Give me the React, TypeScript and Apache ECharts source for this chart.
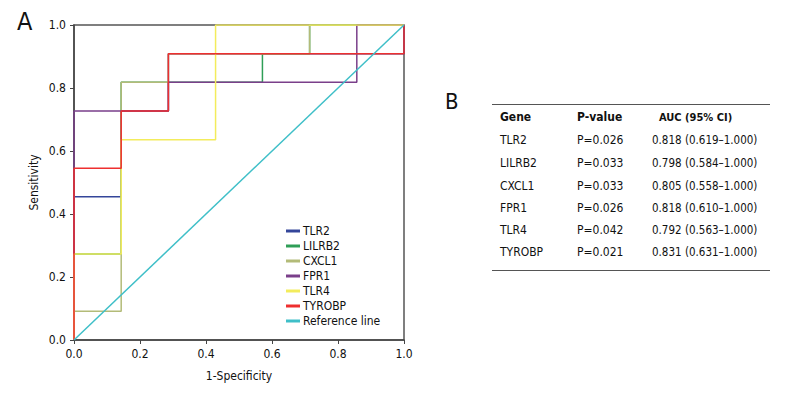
import React, { useEffect, useRef } from "react";
import * as echarts from "echarts";

const FONT = "'Liberation Sans Narrow', 'DejaVu Sans Condensed', 'Roboto Condensed', sans-serif";

const seriesNames = ["TLR2", "LILRB2", "CXCL1", "FPR1", "TLR4", "TYROBP", "Reference line"];
const seriesColors = ["#34469a", "#2f9e57", "#b3bb78", "#7a3f8a", "#f3ec5c", "#ee2f2f", "#3fbfc8"];

// ROC corner points [1-specificity, sensitivity]
const tlr2: number[][] = [[0, 0], [0, 0.455], [0.143, 0.455], [0.143, 0.727], [0.286, 0.727], [0.286, 0.909], [1, 0.909], [1, 1]];
const lilrb2: number[][] = [[0, 0], [0, 0.273], [0.143, 0.273], [0.143, 0.818], [0.571, 0.818], [0.571, 0.909], [0.714, 0.909], [0.714, 1], [1, 1]];
const cxcl1: number[][] = [[0, 0], [0, 0.091], [0.143, 0.091], [0.143, 0.818], [0.286, 0.818], [0.286, 0.909], [0.714, 0.909], [0.714, 1], [1, 1]];
const fpr1: number[][] = [[0, 0], [0, 0.727], [0.286, 0.727], [0.286, 0.818], [0.857, 0.818], [0.857, 1], [1, 1]];
const tlr4: number[][] = [[0, 0], [0, 0.273], [0.143, 0.273], [0.143, 0.636], [0.429, 0.636], [0.429, 1], [1, 1]];
const tyrobp: number[][] = [[0, 0], [0, 0.545], [0.143, 0.545], [0.143, 0.727], [0.286, 0.727], [0.286, 0.909], [1, 0.909], [1, 1]];
const refLine: number[][] = [[0, 0], [1, 1]];
const seriesData = [tlr2, lilrb2, cxcl1, fpr1, tlr4, tyrobp, refLine];

const tableHeader = ["Gene", "P-value", "AUC (95% CI)"];
const tableGenes = ["TLR2", "LILRB2", "CXCL1", "FPR1", "TLR4", "TYROBP"];
const tablePValues = ["P=0.026", "P=0.033", "P=0.033", "P=0.026", "P=0.042", "P=0.021"];
const tableAUC = [
  "0.818 (0.619\u20131.000)",
  "0.798 (0.584\u20131.000)",
  "0.805 (0.558\u20131.000)",
  "0.818 (0.610\u20131.000)",
  "0.792 (0.563\u20131.000)",
  "0.831 (0.631\u20131.000)",
];

export default function App() {
  const ref = useRef<HTMLDivElement>(null);
  useEffect(() => {
    document.body.style.margin = "0";
    if (!ref.current) return;
    const chart = echarts.init(ref.current, null, { renderer: "svg" });

    const rowY = [140, 163, 186, 208, 230, 252];
    const colX = [500, 577, 652];
    const graphics: any[] = [
      { type: "text", left: 17, top: 9, style: { text: "A", fontSize: 25, fontFamily: FONT, fill: "#111" } },
      { type: "text", left: 445, top: 90, style: { text: "B", fontSize: 22, fontFamily: FONT, fill: "#111" } },
      { type: "line", shape: { x1: 492, y1: 104.5, x2: 770, y2: 104.5 }, style: { stroke: "#555", lineWidth: 1.2 } },
      { type: "line", shape: { x1: 492, y1: 270.5, x2: 770, y2: 270.5 }, style: { stroke: "#555", lineWidth: 1.2 } },
      { type: "text", x: colX[0], y: 117, style: { text: tableHeader[0], fontSize: 12, fontWeight: "bold", fontFamily: FONT, fill: "#111", verticalAlign: "middle" } },
      { type: "text", x: colX[1], y: 117, style: { text: tableHeader[1], fontSize: 12, fontWeight: "bold", fontFamily: FONT, fill: "#111", verticalAlign: "middle" } },
      { type: "text", x: 659, y: 117, style: { text: tableHeader[2], fontSize: 11, fontWeight: "bold", fontFamily: FONT, fill: "#111", verticalAlign: "middle" } },
    ];
    tableGenes.forEach((g, i) => {
      graphics.push({ type: "text", x: colX[0], y: rowY[i], style: { text: g, fontSize: 12, fontFamily: FONT, fill: "#111", verticalAlign: "middle" } });
      graphics.push({ type: "text", x: colX[1], y: rowY[i], style: { text: tablePValues[i], fontSize: 12, fontFamily: FONT, fill: "#111", verticalAlign: "middle" } });
      graphics.push({ type: "text", x: colX[2], y: rowY[i], style: { text: tableAUC[i], fontSize: 11.5, fontFamily: FONT, fill: "#111", verticalAlign: "middle" } });
    });

    const axisCommon = {
      type: "value" as const,
      min: 0,
      max: 1,
      interval: 0.2,
      splitLine: { show: false },
      axisLine: { show: true, lineStyle: { color: "#444", width: 1.5 } },
      axisTick: { show: true, length: 4, lineStyle: { color: "#444" } },
      axisLabel: { fontSize: 12, fontFamily: FONT, color: "#111", formatter: (v: number) => v.toFixed(1) },
      nameTextStyle: { fontSize: 12, fontFamily: FONT, color: "#111" },
      nameLocation: "middle" as const,
    };

    chart.setOption({
      animation: false,
      backgroundColor: "#fff",
      grid: { left: 74, top: 25, width: 330, height: 315, show: true, borderColor: "#555", borderWidth: 1.5 },
      xAxis: { ...axisCommon, name: "1-Specificity", nameGap: 30 },
      yAxis: { ...axisCommon, name: "Sensitivity", nameGap: 34 },
      legend: {
        orient: "vertical",
        left: 281,
        top: 219,
        itemWidth: 14,
        itemHeight: 3,
        itemGap: 1,
        icon: "rect",
        textStyle: { fontSize: 12, fontFamily: FONT, color: "#111", lineHeight: 14, padding: [0, 0, 0, -2] },
        data: seriesNames,
      },
      graphic: graphics,
      series: seriesNames.map((n, i) => ({
        name: n,
        type: "line",
        data: seriesData[i],
        showSymbol: false,
        symbol: "none",
        color: seriesColors[i],
        lineStyle: { color: seriesColors[i], width: 1.5 },
        z: i === 6 ? 10 : 2,
      })),
    });
    return () => chart.dispose();
  }, []);
  return <div ref={ref} style={{ width: 795, height: 405 }} />;
}
